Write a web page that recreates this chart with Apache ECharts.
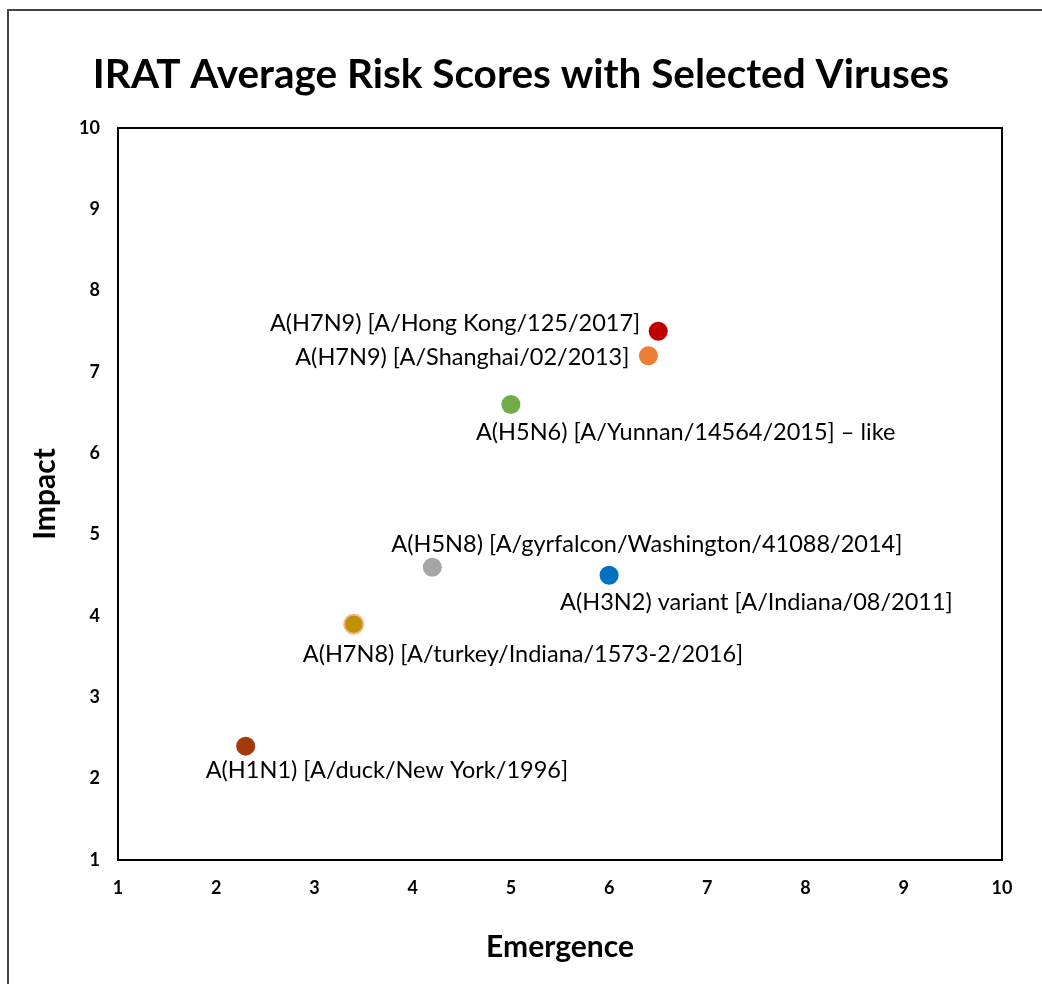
<!DOCTYPE html>
<html>
<head>
<meta charset="utf-8">
<script src="https://cdn.jsdelivr.net/npm/echarts@6/dist/echarts.min.js"></script>
<style>
    html, body{margin:0;padding:0;background:#fff;}
    #chart{width:1042px;height:984px;}
</style>
</head>
<body>
<div id="chart"></div>
<script>
// virus names, emergence (x) and impact (y) scores
var viruses = [
    'A(H7N9) [A/Hong Kong/125/2017]',
    'A(H7N9) [A/Shanghai/02/2013]',
    'A(H5N6) [A/Yunnan/14564/2015] \u2013 like',
    'A(H5N8) [A/gyrfalcon/Washington/41088/2014]',
    'A(H3N2) variant [A/Indiana/08/2011]',
    'A(H7N8) [A/turkey/Indiana/1573-2/2016]',
    'A(H1N1) [A/duck/New York/1996]'
];
var emergence = [6.5, 6.4, 5.0, 4.2, 6.0, 3.4, 2.3];
var impact = [7.5, 7.2, 6.6, 4.6, 4.5, 3.9, 2.4];
var tickValues = [1, 2, 3, 4, 5, 6, 7, 8, 9, 10];

// look of each point and where its label sits
var colors = ['#C00000', '#ED7D31', '#70AD47', '#A5A5A5', '#0070C0', '#BF9000', '#A33A0B'];
var labelAlign = ['right', 'right', 'left', 'left', 'left', 'left', 'left'];
var labelOffset = [[-18, -8], [-19, 2], [-35, 28], [-41, -23], [-49, 27], [-51, 30], [-40, 24]];

var font = 'Lato, "Open Sans", sans-serif';

var points = [];
for (var i = 0; i < viruses.length; i++) {
    points.push({
        name: viruses[i],
        value: [emergence[i], impact[i]],
        itemStyle: {
            color: colors[i],
            opacity: 1,
            borderColor: i == 5 ? '#F4B183' : colors[i],
            borderWidth: i == 5 ? 2 : 0
        },
        label: {
            align: labelAlign[i],
            offset: labelOffset[i]
        }
    });
}

var myChart = echarts.init(document.getElementById('chart'));
var option = {
    animation: false,
    title: {
        text: 'IRAT Average Risk Scores with Selected Viruses',
        left: 'center',
        top: 49,
        textStyle: {fontFamily: font, fontSize: 40.5, fontWeight: 'bold', color: '#000'}
    },
    graphic: [{
        type: 'rect',
        shape: {x: 8, y: 10, width: 1060, height: 1000},
        style: {fill: 'none', stroke: '#444', lineWidth: 2}
    }],
    grid: {
        left: 118, right: 40, top: 128, bottom: 124,
        show: true, borderColor: '#000', borderWidth: 2
    },
    xAxis: {
        type: 'value', min: 1, max: 10, interval: 1,
        name: 'Emergence', nameLocation: 'middle', nameGap: 72,
        nameTextStyle: {fontFamily: font, fontSize: 30, fontWeight: 'bold', color: '#000'},
        axisLine: {show: true, lineStyle: {color: '#000', width: 2}},
        axisTick: {show: false},
        splitLine: {show: false},
        axisLabel: {fontFamily: font, fontSize: 18, fontWeight: 'bold', color: '#000', margin: 19}
    },
    yAxis: {
        type: 'value', min: 1, max: 10, interval: 1,
        name: 'Impact', nameLocation: 'middle', nameGap: 58,
        nameTextStyle: {fontFamily: font, fontSize: 30, fontWeight: 'bold', color: '#000'},
        axisLine: {show: true, lineStyle: {color: '#000', width: 2}},
        axisTick: {show: false},
        splitLine: {show: false},
        axisLabel: {fontFamily: font, fontSize: 18, fontWeight: 'bold', color: '#000', margin: 18}
    },
    series: [{
        type: 'scatter',
        symbolSize: 19,
        data: points,
        label: {
            show: true,
            position: 'inside',
            formatter: '{b}',
            verticalAlign: 'middle',
            fontFamily: font,
            fontSize: 23.5,
            color: '#000'
        }
    }]
};
myChart.setOption(option);
</script>
</body>
</html>
